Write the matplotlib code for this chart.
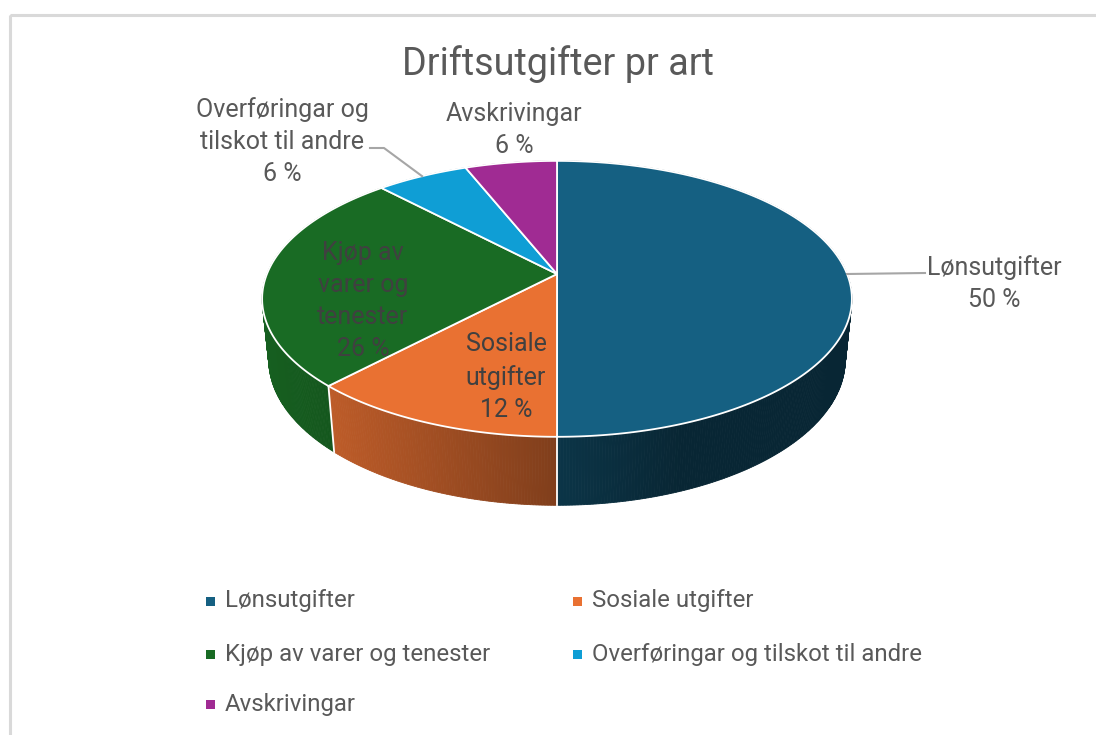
import numpy as np
import matplotlib
matplotlib.use("Agg")
import matplotlib.pyplot as plt
from matplotlib.patches import Polygon, Rectangle
from matplotlib.colors import to_rgb

# ---------------- data ----------------
title = "Driftsutgifter pr art"
categories = ["Lønsutgifter", "Sosiale utgifter", "Kjøp av varer og tenester",
              "Overføringar og tilskot til andre", "Avskrivingar"]
values = [50, 12, 26, 6, 6]
slice_labels = ["Lønsutgifter\n50 %", "Sosiale\nutgifter\n12 %", "Kjøp av\nvarer og\ntenester\n26 %",
                "Overføringar og\ntilskot til andre\n6 %", "Avskrivingar\n6 %"]
colors = ["#156082", "#E97132", "#196B24", "#0F9ED5", "#A02B93"]

FONT = "Roboto"
plt.rcParams["font.family"] = [FONT, "DejaVu Sans"]

W, H_PX = 1096, 735
fig = plt.figure(figsize=(W / 100, H_PX / 100), dpi=100)
ax = fig.add_axes([0, 0, 1, 1])
ax.set_xlim(0, W)
ax.set_ylim(H_PX, 0)
ax.axis("off")

# chart frame
ax.add_patch(Rectangle((9.5, 15), W + 20, H_PX + 20, fill=False, ec="#d9d9d9", lw=2.2, zorder=0))

# ---------------- 3D projection ----------------
CX, CY = 557, 274
SCALE = 1430.0
DIST = 4.93
ALPHA = np.radians(27.4)
THICK = 0.238


def proj(phi, Y=0.0):
    X = np.sin(phi)
    D = np.cos(phi)
    yup = D * np.sin(ALPHA) + Y * np.cos(ALPHA)
    z = D * np.cos(ALPHA) - Y * np.sin(ALPHA)
    k = SCALE / (DIST + z)
    return CX + X * k, CY - yup * k


total = float(sum(values))
fr = np.concatenate([[0], np.cumsum(values)]) / total
starts = fr[:-1] * 2 * np.pi
ends = fr[1:] * 2 * np.pi


def shade(base, x):
    u = (x - CX) / 295.0
    if u < 0:
        f = 0.55 - 0.34 * u
    else:
        f = max(0.40, 0.55 - 0.36 * u)
    r, g, b = to_rgb(base)
    return (r * f, g * f, b * f)


# side wall strips, back to front
strips = []
step = np.radians(0.5)
for i, (a0, a1) in enumerate(zip(starts, ends)):
    n = max(2, int(np.ceil((a1 - a0) / step)))
    ph = np.linspace(a0, a1, n + 1)
    for j in range(n):
        p0, p1 = ph[j], ph[j + 1]
        xt0, yt0 = proj(p0)
        xt1, yt1 = proj(p1)
        xb1, yb1 = proj(p1, -THICK)
        xb0, yb0 = proj(p0, -THICK)
        depth = np.cos((p0 + p1) / 2)
        col = shade(colors[i], (xt0 + xt1) / 2)
        strips.append((depth, [(xt0, yt0), (xt1, yt1), (xb1, yb1), (xb0, yb0)], col))
strips.sort(key=lambda s: -s[0])
for depth, pts, col in strips:
    ax.add_patch(Polygon(pts, closed=True, fc=col, ec=col, lw=0.6, zorder=2))

# vertical separators on visible front side
sil = np.arccos(-np.cos(ALPHA) / DIST)
for a in fr[1:-1] * 2 * np.pi:
    if sil < a < 2 * np.pi - sil:
        x0, y0 = proj(a)
        x1, y1 = proj(a, -THICK)
        ax.plot([x0, x1], [y0, y1], color="white", lw=1.3, zorder=3)

# top face
for i, (a0, a1) in enumerate(zip(starts, ends)):
    ph = np.linspace(a0, a1, 200)
    xs, ys = proj(ph)
    pts = [(CX, CY)] + list(zip(xs, ys))
    ax.add_patch(Polygon(pts, closed=True, fc=colors[i], ec="white", lw=1.3, joinstyle="round", zorder=4))

# ---------------- labels ----------------
out_col = "#595959"
in_col = "#404040"
LFS = 18
ls = 1.42

# Lønsutgifter (outside, right)
mid0 = (starts[0] + ends[0]) / 2
lx, ly = proj(mid0)
ax.plot([lx, 925], [ly, 273], color="#a6a6a6", lw=1.5, zorder=5)
ax.text(994, 284, slice_labels[0], ha="center", va="center", fontsize=LFS, color=out_col,
        linespacing=ls, zorder=6)

# Sosiale (inside)
ax.text(506, 377, slice_labels[1], ha="center", va="center", fontsize=LFS, color=in_col,
        linespacing=ls, zorder=6)

# Kjøp (inside)
ax.text(363, 301, slice_labels[2], ha="center", va="center", fontsize=LFS, color=in_col,
        linespacing=ls, zorder=6)

# Overføringar (outside, upper left)
mid3 = (starts[3] + ends[3]) / 2
ox, oy = proj(mid3)
ax.plot([370, 384, ox], [148, 148, oy], color="#a6a6a6", lw=1.5, zorder=5)
ax.text(282, 142, slice_labels[3], ha="center", va="center", fontsize=LFS, color=out_col,
        linespacing=ls, zorder=6)

# Avskrivingar (outside, top)
ax.text(514, 130, slice_labels[4], ha="center", va="center", fontsize=LFS, color=out_col,
        linespacing=ls, zorder=6)

# title
ax.text(558, 64, title, ha="center", va="center", fontsize=27.2, color=out_col, zorder=6)

# ---------------- legend ----------------
order = [0, 1, 2, 3, 4]
col_x = [210, 577]
row_y = [601, 654, 704]
for k, idx in enumerate(order):
    r, c = divmod(k, 2)
    mx, my = col_x[c], row_y[r]
    ax.add_patch(Rectangle((mx - 4.5, my - 4.5), 9, 9, fc=colors[idx], ec="none", zorder=6))
    ax.text(mx + 15, my, categories[idx], ha="left", va="center", fontsize=17.3, color=out_col, zorder=6)

fig.savefig("out.png", dpi=100, facecolor="white")
